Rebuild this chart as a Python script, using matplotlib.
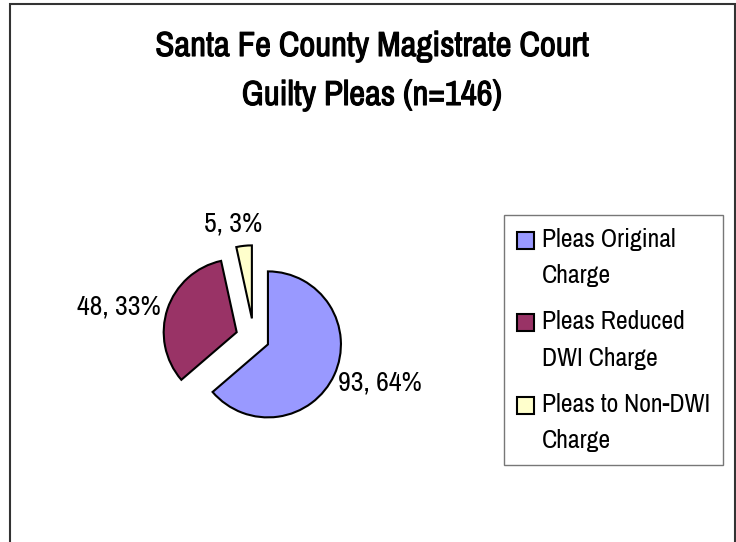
import matplotlib
matplotlib.use("Agg")
import matplotlib.pyplot as plt
from matplotlib.patches import Patch, Rectangle
from matplotlib.legend_handler import HandlerPatch
import matplotlib.patheffects as pe
import numpy as np

plt.rcParams['font.family'] = ['Liberation Sans Narrow', 'Archivo Narrow', 'DejaVu Sans']
plt.rcParams['font.stretch'] = 'condensed'

# data
categories = ["Pleas Original\nCharge", "Pleas Reduced\nDWI Charge", "Pleas to Non-DWI\nCharge"]
counts = [93, 48, 5]
percents = [64, 33, 3]
colors = ["#9999FF", "#993366", "#FFFFCC"]
title_lines = ["Santa Fe County Magistrate Court", "Guilty Pleas (n=146)"]

W, H = 736, 542
fig = plt.figure(figsize=(W / 100, H / 100), dpi=100)

# outer chart border (bottom edge runs off the picture)
fig.patches.append(Rectangle((9.5 / W, -0.05), (735 - 9.5) / W, 1.05 - 3.5 / H,
                             transform=fig.transFigure, fill=False,
                             edgecolor="#333333", linewidth=1.5))

# the narrow font has no bold face here, so thicken the strokes instead
bold = [pe.withStroke(linewidth=0.8, foreground="black")]
for line, base in zip(title_lines, [56, 105]):
    fig.text(372 / W, 1 - base / H, line, ha="center", va="baseline",
             fontsize=25, fontweight="bold", path_effects=bold)

# pie axes, square, centred on the pie centre
cx, cy, rpx, half = 254, 338, 73, 150
ax = fig.add_axes([(cx - half) / W, 1 - (cy + half) / H, 2 * half / W, 2 * half / H])
wedges, _ = ax.pie(counts, colors=colors, startangle=90, counterclock=False,
                   explode=[0.21, 0.25, 0.27],
                   wedgeprops=dict(edgecolor="black", linewidth=1.5))
ax.set_xlim(-half / rpx, half / rpx)
ax.set_ylim(-half / rpx, half / rpx)
ax.set_aspect("equal")
ax.axis("off")

label_dist = [1.1, 1.1, 1.32]
label_turn = [-4, 0, 5]
label_ha = ["left", "right", "center"]
for w, n, p, d, turn, ha in zip(wedges, counts, percents, label_dist, label_turn, label_ha):
    th = np.deg2rad((w.theta1 + w.theta2) / 2 + turn)
    x0, y0 = w.center
    ax.text(x0 + d * w.r * np.cos(th), y0 + d * w.r * np.sin(th), f"{n}, {p}%",
            ha=ha, va="center", fontsize=20)


# Excel puts the legend square next to the first line of a wrapped label
LEG_FS = 18.5
LINE_GAP = 25.2  # points between the two baselines of a label


def top_square(legend, orig_handle, xdescent, ydescent, width, height, fontsize):
    mid = 0.36 * fontsize + LINE_GAP / 2
    return Rectangle((-xdescent, mid - width / 2), width, width)


handles = [Patch(facecolor=c, edgecolor="black", linewidth=1.5) for c in colors]
leg = fig.legend(handles, categories, loc="upper left",
                 bbox_to_anchor=(504 / W, 1 - 215 / H), fontsize=LEG_FS,
                 frameon=True, fancybox=False, handlelength=0.66, handleheight=0.7,
                 handletextpad=0.33, labelspacing=0.9, borderpad=0.5,
                 borderaxespad=0,
                 handler_map={Patch: HandlerPatch(patch_func=top_square)})
for t in leg.get_texts():
    t.set_linespacing(1.7)
leg.get_frame().set_edgecolor("#555555")
leg.get_frame().set_linewidth(1.0)

fig.savefig("out.png", dpi=100)
